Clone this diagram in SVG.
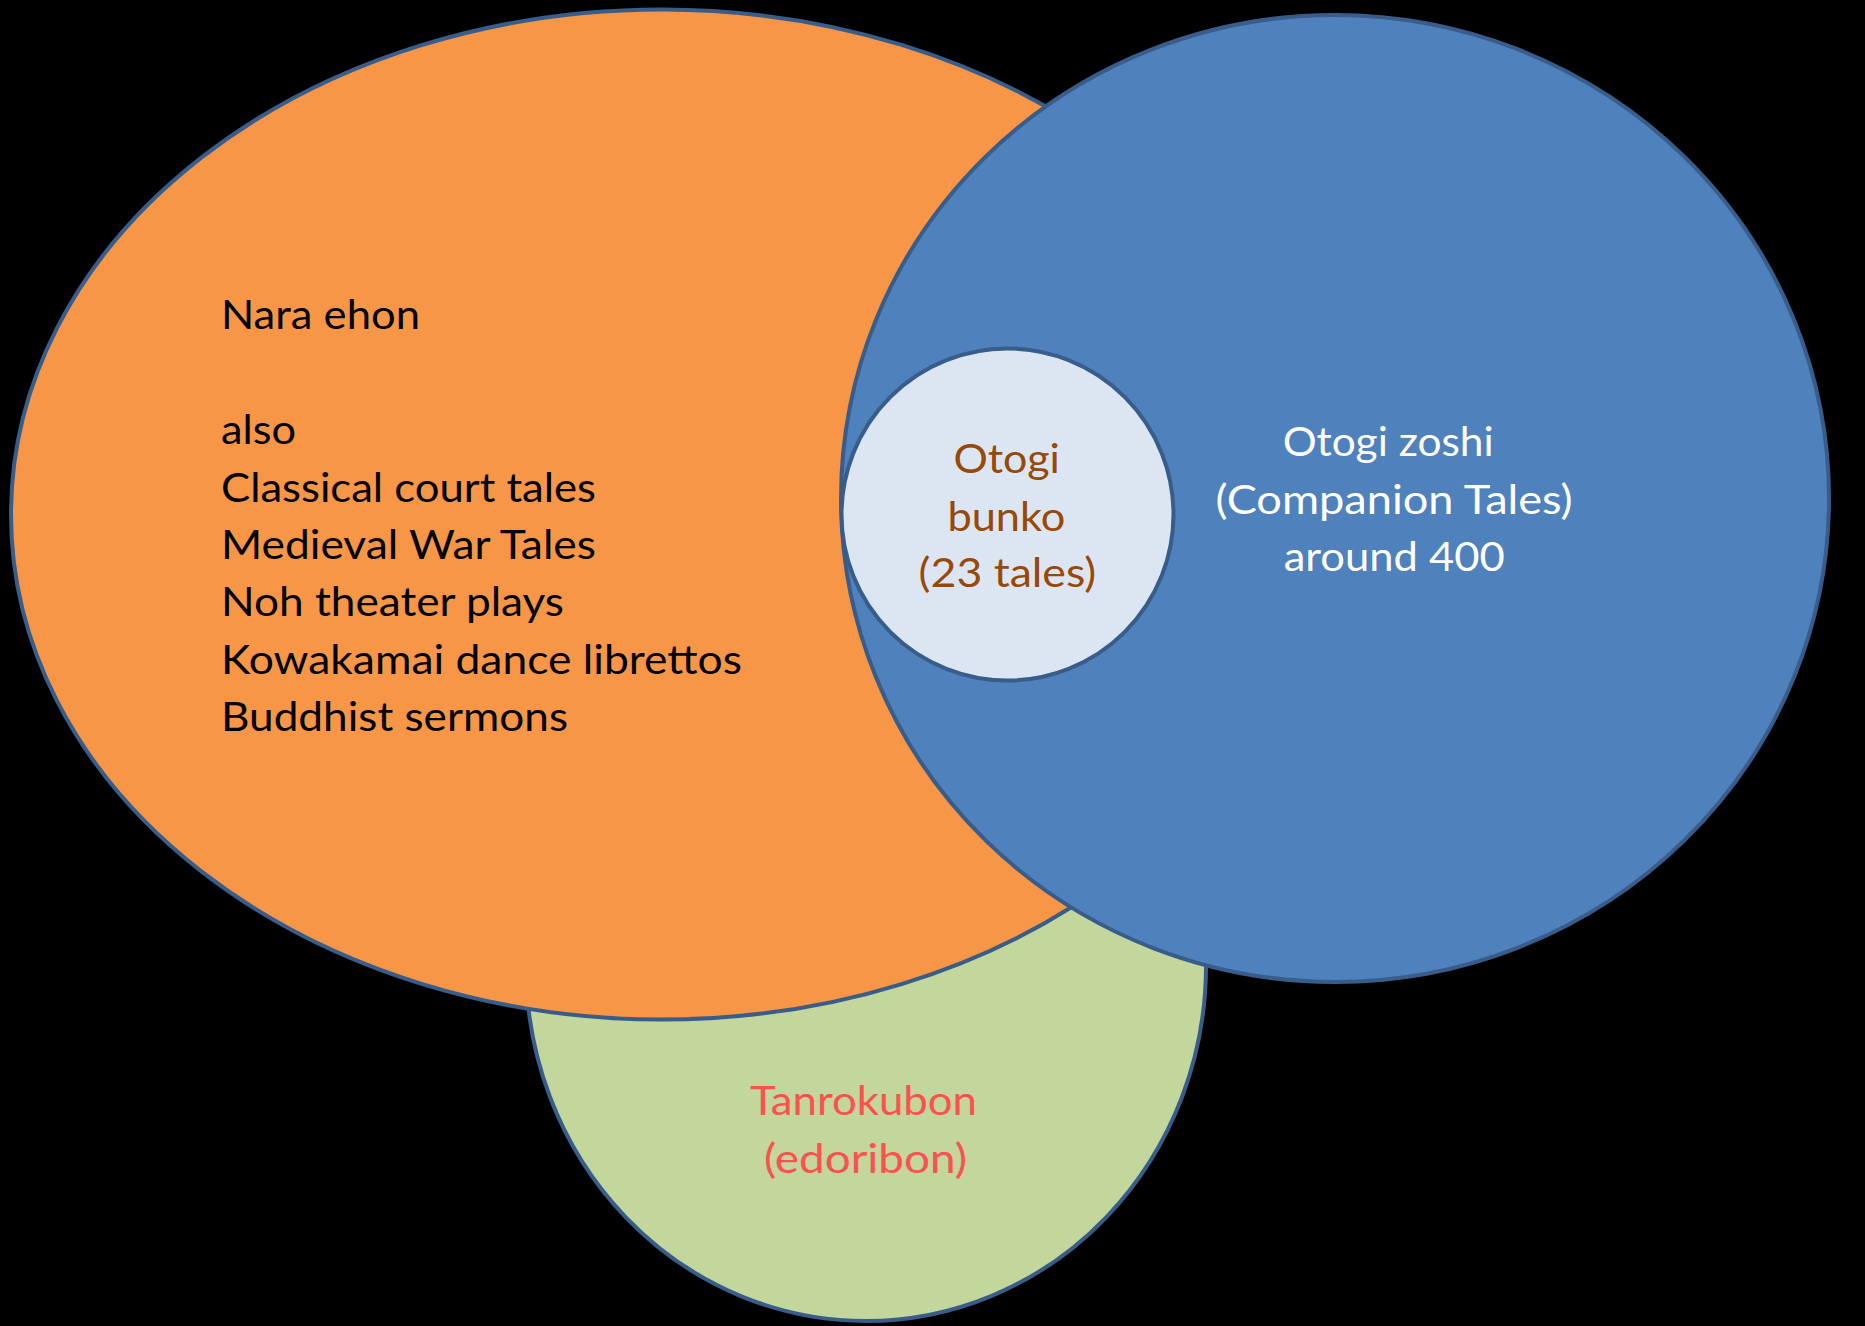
<svg xmlns="http://www.w3.org/2000/svg" width="1865" height="1326" viewBox="0 0 1865 1326">
<style>
.shape{stroke:#385D8A;stroke-width:4}
.t{font-family:Lato,"Open Sans","Liberation Sans",sans-serif;font-size:40px}
.dark{fill:#000000}
.brown{fill:#984807}
.white{fill:#FFFFFF}
.coral{fill:#FF5050}
</style>
<rect x="0" y="0" width="1865" height="1326" fill="#000000"/>
<g id="connectors"/>
<g id="tanrokubon">
<ellipse class="shape" cx="866" cy="966" rx="340" ry="355" fill="#C3D69B"/>
<text class="t coral" x="750" y="1115" textLength="227" lengthAdjust="spacingAndGlyphs">Tanrokubon</text>
<text class="t coral" x="764" y="1173" textLength="203" lengthAdjust="spacingAndGlyphs">(edoribon)</text>
</g>
<g id="nara-ehon">
<ellipse class="shape" cx="662" cy="514.5" rx="651" ry="505" fill="#F79646"/>
<text class="t dark" x="221" y="329" textLength="199" lengthAdjust="spacingAndGlyphs">Nara ehon</text>
<text class="t dark" x="221" y="444" textLength="75" lengthAdjust="spacingAndGlyphs">also</text>
<text class="t dark" x="221" y="501.5" textLength="375" lengthAdjust="spacingAndGlyphs">Classical court tales</text>
<text class="t dark" x="221" y="559" textLength="375" lengthAdjust="spacingAndGlyphs">Medieval War Tales</text>
<text class="t dark" x="221" y="616" textLength="343" lengthAdjust="spacingAndGlyphs">Noh theater plays</text>
<text class="t dark" x="221" y="673.5" textLength="521" lengthAdjust="spacingAndGlyphs">Kowakamai dance librettos</text>
<text class="t dark" x="221" y="731" textLength="347" lengthAdjust="spacingAndGlyphs">Buddhist sermons</text>
</g>
<g id="otogi-zoshi">
<ellipse class="shape" cx="1335" cy="498.5" rx="494" ry="483.5" fill="#4F81BD"/>
<text class="t white" x="1282.7" y="456" textLength="211" lengthAdjust="spacingAndGlyphs">Otogi zoshi</text>
<text class="t white" x="1215.6" y="513.5" textLength="357" lengthAdjust="spacingAndGlyphs">(Companion Tales)</text>
<text class="t white" x="1283.7" y="570.5" textLength="221" lengthAdjust="spacingAndGlyphs">around 400</text>
</g>
<g id="otogi-bunko">
<circle class="shape" cx="1007.5" cy="514.5" r="166" fill="#DCE6F2"/>
<text class="t brown" x="953.4" y="473.3" textLength="106.5" lengthAdjust="spacingAndGlyphs">Otogi</text>
<text class="t brown" x="947.4" y="530.5" textLength="118" lengthAdjust="spacingAndGlyphs">bunko</text>
<text class="t brown" x="918.6" y="587.3" textLength="177.6" lengthAdjust="spacingAndGlyphs">(23 tales)</text>
</g>
</svg>
